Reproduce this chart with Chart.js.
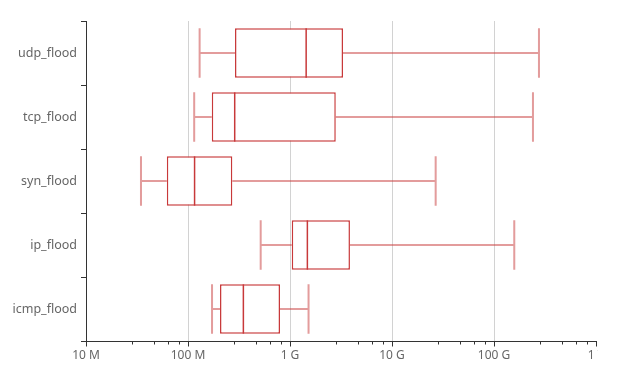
<!DOCTYPE html>
<html>
<head>
<meta charset="utf-8">
<script src="https://cdn.jsdelivr.net/npm/chart.js@4.4.1/dist/chart.umd.min.js"></script>
<style>
    html, body { margin: 0; padding: 0; background: #fff; }
    #wrap { width: 598px; height: 376px; overflow: hidden; }
</style>
</head>
<body>
<div id="wrap"><canvas id="boxChart" width="640" height="376"></canvas></div>
<script>
// attack types, top to bottom
const categories = ["udp_flood", "tcp_flood", "syn_flood", "ip_flood", "icmp_flood"];

// box plot stats per category
const mins    = [130e6, 115e6, 34.6e6, 516e6, 172e6];
const q1s     = [289e6, 171e6, 62e6, 1.04e9, 206e6];
const medians = [1.44e9, 287e6, 116e6, 1.48e9, 349e6];
const q3s     = [3.31e9, 2.81e9, 272e6, 3.87e9, 798e6];
const maxs    = [276e9, 241e9, 26.8e9, 158e9, 1.52e9];

// x axis
const xTickValues = [1e7, 1e8, 1e9, 1e10, 1e11, 1e12];
const xTickLabels = ["10 M", "100 M", "1 G", "10 G", "100 G", "1 T"];

const boxColor = "#c8393a";
const whiskerColor = "rgba(200, 57, 58, 0.5)";
const axisColor = "#333";

// minor ticks: 5 linear steps inside each decade
const allTicks = [];
xTickValues.forEach((v, i) => {
    allTicks.push({ value: v, major: true });
    if (i < xTickValues.length - 1) {
        for (let k = 1; k < 5; k++) allTicks.push({ value: v * (1 + 1.8 * k), major: false });
    }
});

const boxPlotPlugin = {
    id: "boxPlot",
    beforeDatasetsDraw(chart) {
        const ctx = chart.ctx;
        const x = chart.scales.x;
        const meta = chart.getDatasetMeta(0);
        ctx.save();
        ctx.strokeStyle = whiskerColor;
        ctx.lineWidth = 2;
        meta.data.forEach((bar, i) => {
            const { y, height } = bar.getProps(["y", "height"], true);
            const xMin = x.getPixelForValue(mins[i]);
            const xQ1 = x.getPixelForValue(q1s[i]);
            const xQ3 = x.getPixelForValue(q3s[i]);
            const xMax = x.getPixelForValue(maxs[i]);
            ctx.beginPath();
            ctx.moveTo(xMin, y); ctx.lineTo(xQ1, y);
            ctx.moveTo(xQ3, y); ctx.lineTo(xMax, y);
            ctx.moveTo(xMin, y - height / 2); ctx.lineTo(xMin, y + height / 2);
            ctx.moveTo(xMax, y - height / 2); ctx.lineTo(xMax, y + height / 2);
            ctx.stroke();
        });
        ctx.restore();
    },
    afterDatasetsDraw(chart) {
        const ctx = chart.ctx;
        const x = chart.scales.x;
        const meta = chart.getDatasetMeta(0);
        ctx.save();
        ctx.strokeStyle = boxColor;
        ctx.lineWidth = 1.5;
        meta.data.forEach((bar, i) => {
            const { y, height } = bar.getProps(["y", "height"], true);
            const xm = x.getPixelForValue(medians[i]);
            ctx.beginPath();
            ctx.moveTo(xm, y - height / 2);
            ctx.lineTo(xm, y + height / 2);
            ctx.stroke();
        });
        // x axis tick marks (major longer than minor)
        ctx.strokeStyle = axisColor;
        ctx.lineWidth = 1;
        const yb = Math.round(chart.chartArea.bottom) + 0.5;
        allTicks.forEach(t => {
            const px = Math.round(x.getPixelForValue(t.value)) + 0.5;
            ctx.beginPath();
            ctx.moveTo(px, yb);
            ctx.lineTo(px, yb + (t.major ? 5 : 3));
            ctx.stroke();
        });
        ctx.restore();
    }
};

const chartCtx = document.getElementById("boxChart").getContext("2d");
new Chart(chartCtx, {
    type: "bar",
    data: {
        labels: categories,
        datasets: [{
            data: q1s.map((q, i) => [q, q3s[i]]),
            backgroundColor: "#fff",
            borderColor: boxColor,
            borderWidth: 1.5,
            borderSkipped: false,
            categoryPercentage: 1,
            barPercentage: 0.77
        }]
    },
    options: {
        indexAxis: "y",
        responsive: false,
        animation: false,
        layout: {
            padding: { top: 21, right: 44, left: 0, bottom: 0 }
        },
        plugins: {
            legend: { display: false },
            tooltip: { enabled: false }
        },
        scales: {
            x: {
                type: "logarithmic",
                min: 1e7,
                max: 1e12,
                afterBuildTicks: scale => {
                    scale.ticks = allTicks.map(t => ({ value: t.value, major: t.major }));
                },
                afterFit: scale => { scale.height = 35; },
                ticks: {
                    autoSkip: false,
                    maxRotation: 0,
                    padding: 7,
                    color: "#666",
                    font: { family: "Noto Sans", size: 12 },
                    callback: value => {
                        const idx = xTickValues.findIndex(v => Math.abs(v - value) / v < 1e-6);
                        return idx >= 0 ? xTickLabels[idx] : "";
                    }
                },
                grid: {
                    drawTicks: false,
                    color: c => {
                        const t = c.tick;
                        if (!t || !t.major) return "transparent";
                        if (t.value === xTickValues[0] || t.value === xTickValues[xTickValues.length - 1]) return "transparent";
                        return "#d2d2d2";
                    }
                },
                border: { color: axisColor, width: 1 }
            },
            y: {
                afterFit: scale => { scale.width = 86; },
                ticks: {
                    padding: 4,
                    color: "#666",
                    font: { family: "Noto Sans", size: 12.5 }
                },
                grid: {
                    offset: true,
                    drawOnChartArea: false,
                    drawTicks: true,
                    tickLength: 5,
                    tickColor: axisColor
                },
                border: { color: axisColor, width: 1 }
            }
        }
    },
    plugins: [boxPlotPlugin]
});
</script>
</body>
</html>
